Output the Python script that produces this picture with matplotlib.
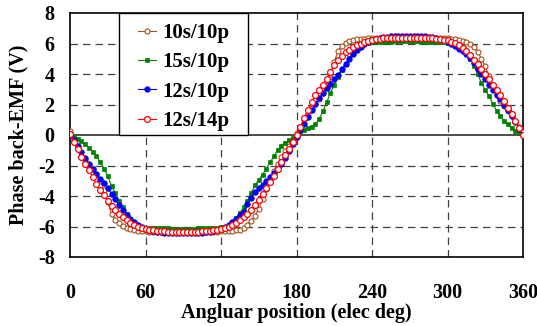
"""Phase back-EMF vs angular position for four slot/pole combinations."""
import matplotlib
matplotlib.use('Agg')
import matplotlib.pyplot as plt
from matplotlib.patches import Rectangle
import numpy as np

plt.rcParams['font.family'] = ['Liberation Serif', 'DejaVu Serif']
plt.rcParams['font.weight'] = 'bold'
plt.rcParams['axes.unicode_minus'] = False

# === data (3 deg steps) ===
angle = np.arange(0, 361, 3)

emf_10s10p = [
    0.25, -0.45, -0.95, -1.35, -1.65, -1.95, -2.2, -2.55, -3.0, -3.6,
    -4.4, -5.15, -5.55, -5.78, -5.95, -6.08, -6.16, -6.22, -6.27, -6.3,
    -6.32, -6.33, -6.33, -6.34, -6.34, -6.34, -6.34, -6.34, -6.34, -6.34,
    -6.34, -6.34, -6.34, -6.34, -6.34, -6.34, -6.34, -6.34, -6.33, -6.33,
    -6.32, -6.31, -6.3, -6.28, -6.25, -6.2, -6.08, -5.9, -5.62, -5.3,
    -4.85, -4.2, -3.55, -2.95, -2.35, -1.9, -1.45, -1.05, -0.7, -0.3,
    0.1, 0.55, 1.0, 1.4, 1.75, 2.05, 2.35, 2.75, 3.3, 4.0,
    4.8, 5.5, 5.85, 6.05, 6.15, 6.22, 6.27, 6.3, 6.32, 6.33,
    6.34, 6.34, 6.34, 6.34, 6.34, 6.34, 6.34, 6.34, 6.34, 6.34,
    6.34, 6.34, 6.34, 6.34, 6.34, 6.34, 6.34, 6.34, 6.34, 6.33,
    6.33, 6.3, 6.27, 6.22, 6.15, 6.08, 6.0, 5.75, 5.45, 5.0,
    4.5, 3.85, 3.25, 2.7, 2.25, 1.9, 1.6, 1.25, 0.95, 0.55,
    0.2,
]

emf_15s10p = [
    0.0, -0.15, -0.28, -0.42, -0.6, -0.85, -1.1, -1.4, -1.75, -2.2,
    -2.7, -3.35, -3.8, -4.3, -4.75, -5.15, -5.5, -5.75, -5.92, -6.02,
    -6.08, -6.1, -6.1, -6.1, -6.11, -6.12, -6.13, -6.14, -6.15, -6.15,
    -6.15, -6.15, -6.15, -6.14, -6.13, -6.12, -6.11, -6.1, -6.1, -6.08,
    -6.05, -6.0, -5.9, -5.7, -5.45, -5.1, -4.75, -4.3, -3.8, -3.3,
    -2.95, -2.6, -2.2, -1.8, -1.4, -1.0, -0.7, -0.5, -0.35, -0.2,
    0.0, 0.2, 0.35, 0.45, 0.55, 0.7, 1.05, 1.55, 2.15, 2.75,
    3.3, 3.8, 4.25, 4.65, 5.05, 5.4, 5.7, 5.9, 6.0, 6.05,
    6.08, 6.1, 6.1, 6.11, 6.12, 6.13, 6.14, 6.15, 6.15, 6.15,
    6.15, 6.15, 6.14, 6.13, 6.12, 6.11, 6.1, 6.1, 6.1, 6.08,
    6.06, 6.02, 5.95, 5.82, 5.62, 5.38, 5.0, 4.55, 4.0, 3.4,
    2.95, 2.55, 2.05, 1.6, 1.25, 0.95, 0.7, 0.45, 0.25, 0.1,
    0.0,
]

emf_12s10p = [
    0.0, -0.35, -0.72, -1.1, -1.5, -1.88, -2.22, -2.55, -2.87, -3.18,
    -3.5, -3.85, -4.2, -4.6, -4.95, -5.25, -5.5, -5.72, -5.9, -6.05,
    -6.15, -6.22, -6.28, -6.33, -6.37, -6.4, -6.42, -6.44, -6.45, -6.45,
    -6.45, -6.45, -6.45, -6.44, -6.42, -6.4, -6.37, -6.33, -6.28, -6.22,
    -6.15, -6.05, -5.9, -5.72, -5.5, -5.27, -5.02, -4.55, -4.1, -3.75,
    -3.5, -3.25, -3.0, -2.78, -2.5, -2.2, -1.88, -1.5, -1.05, -0.6,
    -0.15, 0.3, 0.75, 1.2, 1.65, 2.05, 2.4, 2.75, 3.05, 3.35,
    3.65, 3.95, 4.3, 4.65, 5.0, 5.3, 5.55, 5.77, 5.95, 6.1,
    6.2, 6.28, 6.35, 6.4, 6.44, 6.47, 6.49, 6.5, 6.5, 6.5,
    6.5, 6.5, 6.5, 6.49, 6.47, 6.44, 6.4, 6.35, 6.28, 6.2,
    6.12, 5.98, 5.82, 5.65, 5.48, 5.3, 5.08, 4.7, 4.35, 4.0,
    3.65, 3.3, 2.98, 2.65, 2.35, 2.0, 1.65, 1.25, 0.85, 0.42,
    0.0,
]

emf_12s14p = [
    0.05, -0.45, -0.95, -1.45, -1.9, -2.3, -2.75, -3.2, -3.6, -3.95,
    -4.3, -4.65, -4.95, -5.2, -5.4, -5.6, -5.75, -5.88, -6.0, -6.08,
    -6.15, -6.2, -6.25, -6.28, -6.3, -6.32, -6.33, -6.34, -6.34, -6.34,
    -6.34, -6.34, -6.34, -6.34, -6.33, -6.32, -6.3, -6.28, -6.25, -6.2,
    -6.15, -6.08, -6.0, -5.88, -5.75, -5.6, -5.4, -5.15, -4.9, -4.6,
    -4.25, -3.85, -3.45, -3.05, -2.7, -2.25, -1.75, -1.3, -0.9, -0.45,
    0.0, 0.5, 1.1, 1.65, 2.15, 2.6, 2.95, 3.3, 3.7, 4.1,
    4.6, 4.95, 5.2, 5.42, 5.6, 5.75, 5.88, 6.0, 6.1, 6.17,
    6.22, 6.27, 6.3, 6.33, 6.35, 6.36, 6.37, 6.38, 6.38, 6.38,
    6.38, 6.38, 6.38, 6.37, 6.36, 6.35, 6.33, 6.3, 6.27, 6.24,
    6.2, 6.12, 6.02, 5.88, 5.7, 5.5, 5.25, 4.95, 4.65, 4.35,
    4.0, 3.65, 3.3, 2.95, 2.6, 2.2, 1.8, 1.35, 0.9, 0.45,
    0.0,
]

series_labels = ['10s/10p', '15s/10p', '12s/10p', '12s/14p']
x_ticks = [0, 60, 120, 180, 240, 300, 360]
y_ticks = [-8, -6, -4, -2, 0, 2, 4, 6, 8]

BROWN = '#A0501E'
GREEN = '#008000'
BLUE = '#0000FF'
RED = '#FF0000'
GRID = '#404040'
FS = 14.5


def main():
    fig = plt.figure(figsize=(5.37, 3.26), dpi=100)
    ax = fig.add_axes([70 / 537, 1 - 257 / 326, 453 / 537, 244 / 326])

    # dashed grid + solid zero line (Excel look)
    for xv in x_ticks[1:-1]:
        ax.axvline(xv, color=GRID, lw=0.9, ls=(0, (6, 4)), zorder=1)
    for yv in y_ticks[1:-1]:
        if yv == 0:
            ax.axhline(0, color='#404040', lw=1.3, zorder=1)
        else:
            ax.axhline(yv, color=GRID, lw=0.9, ls=(0, (6, 4)), zorder=1)

    ax.plot(angle, emf_10s10p, color=BROWN, lw=0.8, marker='o', ms=3.6,
            mfc='white', mec=BROWN, mew=0.8, label=series_labels[0], zorder=3)
    ax.plot(angle, emf_15s10p, color=GREEN, lw=0.8, marker='s', ms=3.2,
            mfc=GREEN, mec=GREEN, mew=0.5, label=series_labels[1], zorder=3)
    ax.plot(angle, emf_12s10p, color=BLUE, lw=0.8, marker='o', ms=4.0,
            mfc=BLUE, mec=BLUE, mew=0.5, label=series_labels[2], zorder=3)
    ax.plot(angle, emf_12s14p, color=RED, lw=0.8, marker='o', ms=4.2,
            mfc='white', mec=RED, mew=0.9, label=series_labels[3], zorder=3)

    ax.set_xlim(0, 360)
    ax.set_ylim(-8, 8)
    ax.set_xticks(x_ticks)
    ax.set_yticks(y_ticks)
    ax.tick_params(axis='both', length=0, labelsize=FS, colors='black')
    ax.tick_params(axis='x', pad=19)
    ax.tick_params(axis='y', pad=11)
    for sp in ax.spines.values():
        sp.set_color('black')
        sp.set_linewidth(1.2)

    ax.set_xlabel('Angluar position (elec deg)', fontsize=FS,
                  fontweight='bold', labelpad=0)
    ax.set_ylabel('Phase back-EMF (V)', fontsize=FS, fontweight='bold',
                  labelpad=7)

    # legend box: white panel over the upper-left grid
    x0, x1 = (119 - 70) / 453, (248 - 70) / 453
    box = Rectangle((x0, 0.5), x1 - x0, 0.5, transform=ax.transAxes,
                    facecolor='white', edgecolor='black', lw=1.0, zorder=4)
    ax.add_patch(box)
    leg = ax.legend(loc='center', bbox_to_anchor=((x0 + x1) / 2, 0.738),
                    frameon=False, handlelength=0.85,
                    handletextpad=0.3, labelspacing=0.45,
                    prop={'weight': 'bold', 'size': 15})
    leg.set_zorder(5)

    fig.savefig('out.png', dpi=100, facecolor='white')


if __name__ == '__main__':
    main()
